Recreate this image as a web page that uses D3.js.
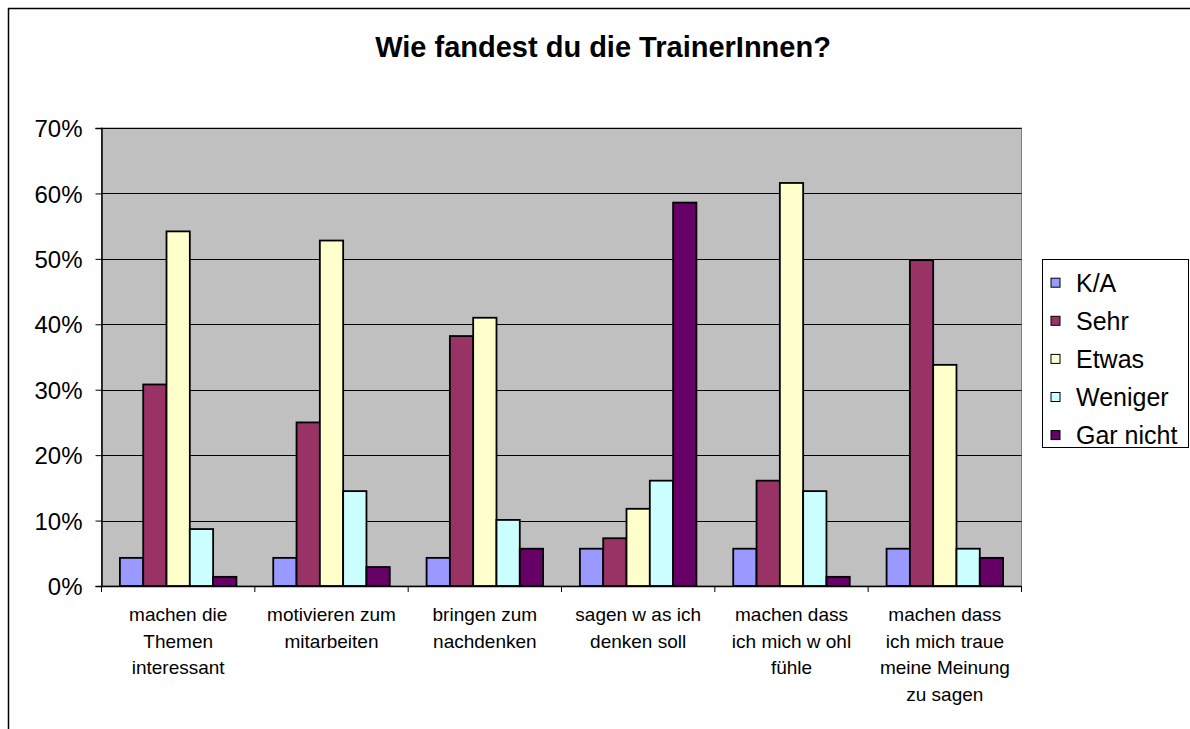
<!DOCTYPE html>
<html><head><meta charset="utf-8">
<script src="https://cdn.jsdelivr.net/npm/d3@7"></script>
<style>
html,body{margin:0;padding:0;background:#fff;}
svg{display:block;font-family:"Liberation Sans",Arial,sans-serif;}
</style></head>
<body><svg id="c" width="1190" height="729"></svg>
<script>
const title = "Wie fandest du die TrainerInnen?";
const categories = [
  ["machen die","Themen","interessant"],
  ["motivieren zum","mitarbeiten"],
  ["bringen zum","nachdenken"],
  ["sagen w as ich","denken soll"],
  ["machen dass","ich mich w ohl","fühle"],
  ["machen dass","ich mich traue","meine Meinung","zu sagen"]
];
const seriesNames = ["K/A","Sehr","Etwas","Weniger","Gar nicht"];
const seriesColors = ["#9999FF","#993366","#FFFFCC","#CCFFFF","#660066"];
const valKA      = [4.3, 4.3, 4.3, 5.7, 5.7, 5.7];
const valSehr    = [30.8, 25.0, 38.2, 7.3, 16.1, 49.8];
const valEtwas   = [54.2, 52.8, 41.0, 11.8, 61.6, 33.8];
const valWeniger = [8.7, 14.5, 10.1, 16.1, 14.5, 5.7];
const valGar     = [1.4, 2.9, 5.7, 58.6, 1.4, 4.3];
const yTicks = [0,10,20,30,40,50,60,70];

const seriesValues = [valKA, valSehr, valEtwas, valWeniger, valGar];

(function(){
const svg = d3.select("#c");
svg.append("rect").attr("x",8.5).attr("y",8.5).attr("width",1200).attr("height",800)
  .attr("fill","#fff").attr("stroke","#000").attr("stroke-width",1.5);

const pL = 101.5, pR = 1021.5, pT = 128, pB = 586;
const x = d3.scaleBand().domain(d3.range(categories.length)).range([pL,pR]).padding(0);
const xs = d3.scaleBand().domain(d3.range(seriesNames.length)).range([0,x.bandwidth()])
  .paddingInner(0).paddingOuter(0.79);
const y = d3.scaleLinear().domain([0,70]).range([pB,pT]);

svg.append("rect").attr("x",pL).attr("y",pT).attr("width",pR-pL).attr("height",pB-pT)
  .attr("fill","#C0C0C0").attr("stroke","#808080").attr("stroke-width",1);

svg.append("g").selectAll("line").data(yTicks.filter(d=>d>0)).join("line")
  .attr("x1",pL).attr("x2",pR)
  .attr("y1",d=>Math.round(y(d))+0.5).attr("y2",d=>Math.round(y(d))+0.5)
  .attr("stroke","#000").attr("stroke-width",1);

const groups = svg.append("g").selectAll("g").data(categories.map((c,i)=>i)).join("g")
  .attr("transform",i=>`translate(${x(i)},0)`);
groups.selectAll("rect").data(i=>seriesValues.map((vals,s)=>({s,v:vals[i]}))).join("rect")
  .attr("x",d=>xs(d.s)).attr("width",xs.bandwidth())
  .attr("y",d=>y(d.v)).attr("height",d=>y(0)-y(d.v))
  .attr("fill",d=>seriesColors[d.s]).attr("stroke","#000").attr("stroke-width",1.8);

const yAxis = d3.axisLeft(y).tickValues(yTicks).tickFormat(d=>d+"%").tickSize(6).tickPadding(13);
const gy = svg.append("g").attr("transform",`translate(${pL},0)`).call(yAxis);
gy.select(".domain").attr("stroke","#000").attr("stroke-width",1.5);
gy.selectAll(".tick line").attr("stroke","#000");
gy.selectAll(".tick text").attr("font-size",24).attr("fill","#000")
  .attr("font-family","'Liberation Sans',Arial,sans-serif").attr("dy","0.36em");

const gx = svg.append("g").attr("transform",`translate(0,${pB})`);
gx.append("line").attr("x1",pL).attr("x2",pR).attr("y1",0.5).attr("y2",0.5)
  .attr("stroke","#000").attr("stroke-width",1.5);
const bounds = d3.range(categories.length+1).map(i=> i<categories.length ? x(i) : pR);
gx.selectAll("line.t").data(bounds).join("line").attr("class","t")
  .attr("x1",d=>d).attr("x2",d=>d).attr("y1",0).attr("y2",6).attr("stroke","#000");
const labels = gx.selectAll("text").data(categories).join("text")
  .attr("text-anchor","middle").attr("font-size",19).attr("fill","#000")
  .attr("transform",(d,i)=>`translate(${x(i)+x.bandwidth()/2},35)`);
labels.selectAll("tspan").data(d=>d).join("tspan")
  .attr("x",0).attr("y",(d,j)=>j*26.7).text(d=>d);

svg.append("text").attr("x",603).attr("y",57).attr("text-anchor","middle")
  .attr("font-size",29).attr("font-weight","bold").attr("fill","#000").text(title);

const lg = svg.append("g");
lg.append("rect").attr("x",1042.5).attr("y",259.5).attr("width",146).attr("height",188)
  .attr("fill","#fff").attr("stroke","#000").attr("stroke-width",1);
const items = lg.selectAll("g").data(seriesNames).join("g")
  .attr("transform",(d,i)=>`translate(1051,${282.7+i*38.1})`);
items.append("rect").attr("x",0).attr("y",-4.5).attr("width",9).attr("height",9)
  .attr("fill",(d,i)=>seriesColors[i]).attr("stroke","#000").attr("stroke-width",1);
items.append("text").attr("x",25).attr("y",0).attr("dy","0.36em")
  .attr("font-size",25).attr("fill","#000").text(d=>d);
})();
</script></body></html>
